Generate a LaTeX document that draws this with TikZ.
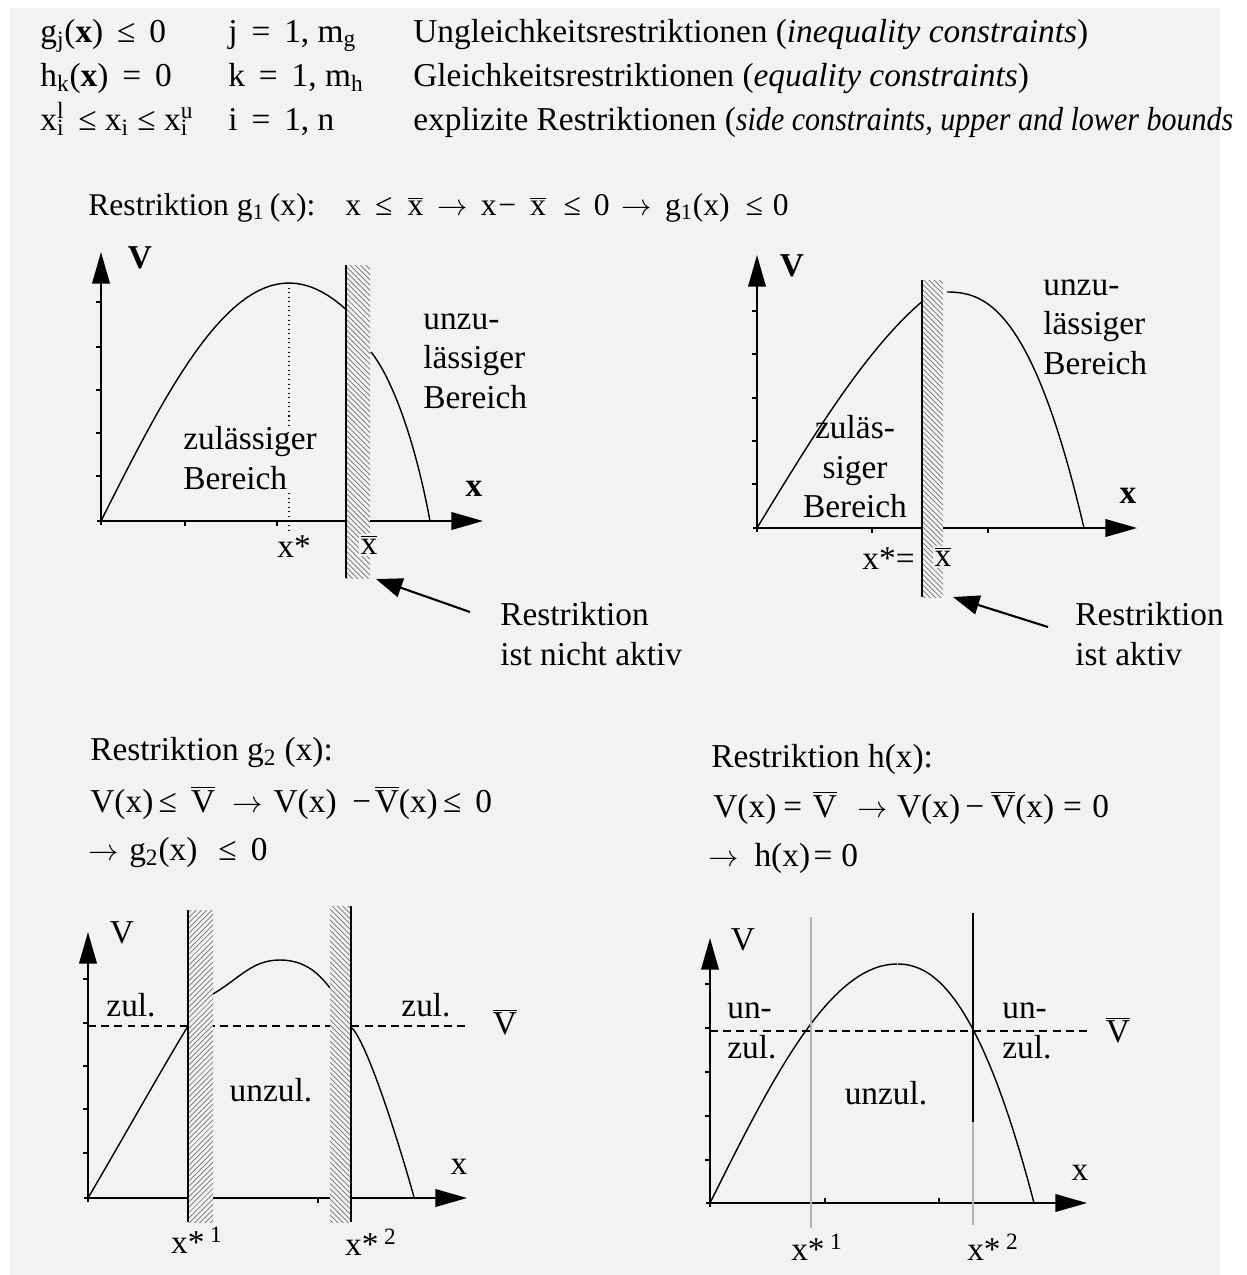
\documentclass[tikz,border=0pt]{standalone}
\usepackage{fontspec}
\setmainfont{Liberation Serif}
\usetikzlibrary{arrows.meta,patterns}

\definecolor{bgrey}{RGB}{242,242,242}
\newcommand{\xbar}{$\overline{\mbox{x}}$}
\newcommand{\Vbar}{$\overline{\mbox{V}}$}
\newcommand{\toarr}{$\rightarrow$}
\newcommand{\gap}[1]{\hspace{#1pt}}
\newcommand{\subsup}[3]{#1\rlap{\textsuperscript{#3}}\textsubscript{#2}}

\tikzset{
  txt/.style={font=\fontsize{19}{22.5}\selectfont, inner sep=0pt, align=left},
  head/.style={txt, anchor=base west, font=\fontsize{19}{23}\selectfont},
  title/.style={txt, anchor=base west, font=\fontsize{19}{23}\selectfont},
  axis/.style={line width=1.1pt, -{Triangle[length=18pt,width=10pt]}},
  curve/.style={line width=0.8pt},
  tick/.style={line width=0.6pt},
  wall/.style={line width=1.1pt},
  hatchNW/.style={preaction={fill=bgrey}, pattern=north west lines, pattern color=black!55},
  hatchNE/.style={preaction={fill=bgrey}, pattern=north east lines, pattern color=black!55},
  pointer/.style={line width=1.2pt, -{Triangle[length=15pt,width=11pt]}},
  vbar/.style={line width=0.8pt, dash pattern=on 4.5pt off 3pt},
}

\begin{document}
\begin{tikzpicture}[x=0.02cm, y=-0.02cm]
  \useasboundingbox (0,0) rectangle (1247,1275);
  \fill[bgrey] (10,8) rectangle (1220,1275);

  % restrictions, general form
  \node[head] (ineq) at (40,42) {g\textsubscript{j}(\textbf{x}) \,≤\, 0};
  \node[head] (ineqidx) at (228,42) {j \,=\, 1, m\textsubscript{g}};
  \node[head] (ineqtxt) at (413,42) {Ungleichkeitsrestriktionen (\textit{inequality constraints})};
  \node[head] (eq) at (40,86) {h\textsubscript{k}(\textbf{x}) \,=\, 0};
  \node[head] (eqidx) at (228,86) {k \,=\, 1, m\textsubscript{h}};
  \node[head] (eqtxt) at (413,86) {Gleichkeitsrestriktionen (\textit{equality constraints})};
  \node[head] (side) at (40,130) {\subsup{x}{i}{l}\, ≤ x\textsubscript{i} ≤ \subsup{x}{i}{u}};
  \node[head] (sideidx) at (228,130) {i \,=\, 1, n};
  \node[head] (sidetxt) at (413,130) {explizite Restriktionen ({\itshape\addfontfeature{FakeStretch=0.9}side constraints, upper and lower bounds}};

  % g1, not active
  \node[title, font=\fontsize{18}{22}\selectfont] (g1head) at (88,215)
    {Restriktion g\textsubscript{1}\,(x):\gap{17}x\gap{8}≤\gap{8.5}\xbar\gap{8}\toarr\gap{7.4}x\gap{1}−\gap{8}\xbar\gap{10}≤\gap{7.4}0\gap{6.8}\toarr\gap{7.4}g\textsubscript{1}(x)\gap{9}≤\gap{5.7}0};
  \draw[axis] (97,521) -- (483,521);
  \draw[axis] (101,525) -- (101,252);
  \foreach \t in {302,347,390,433,476} \draw[tick] (101,\t) -- (96,\t);
  \foreach \t in {185,277} \draw[tick] (\t,521) -- (\t,526);
  \draw[curve] plot[domain=101:347, samples=40] (\x, {521-238*sin(90*((\x-101)/188))});
  \draw[curve] (371,352) .. controls (392,378) and (415,440) .. (430,521);
  \draw[dotted, line width=0.6pt] (289,283) -- (289,530);
  \path[hatchNW] (346,265) rectangle (370,578);
  \draw[wall] (346,265) -- (346,578);
  \node[txt] (p1V) at (140,258) {\bfseries V};
  \node[txt] (p1x) at (474,489) {\bfseries x};
  \node[txt, anchor=west] (p1bad) at (423,361) {unzu-\\lässiger\\Bereich};
  \node[txt, anchor=west, fill=bgrey] (p1ok) at (183,458) {zulässiger\\Bereich};
  \node[txt] (p1xs) at (294,547) {x*};
  \node[txt, fill=bgrey, inner sep=1pt] (p1xb) at (369,545) {\xbar};
  \node[txt, anchor=west] (p1note) at (500,634) {Restriktion\\ist nicht aktiv};
  \coordinate (p1from) at (470,612);
  \coordinate (p1to) at (376,579);
  \draw[pointer] (p1from) -- (p1to);

  % g1, active
  \draw[axis] (753,528) -- (1137,528);
  \draw[axis] (757,532) -- (757,255);
  \foreach \t in {311,354,398,441,484} \draw[tick] (757,\t) -- (752,\t);
  \foreach \t in {872,988} \draw[tick] (\t,528) -- (\t,533);
  \draw[curve] plot[domain=757:922, samples=40] (\x, {528-265*sin(90*((\x-757)/253))});
  \draw[curve] plot[domain=947:1084, samples=40] (\x, {292+236*((\x-946)/138)^2.5});
  \path[hatchNW] (922,280) rectangle (943,597);
  \draw[wall] (922,280) -- (922,597);
  \node[txt] (p2V) at (792,266) {\bfseries V};
  \node[txt] (p2x) at (1128,496) {\bfseries x};
  \node[txt, anchor=west] (p2bad) at (1043,327) {unzu-\\lässiger\\Bereich};
  \node[txt, align=center] (p2ok) at (855,467) {zuläs-\\siger\\Bereich};
  \node[txt, anchor=east] (p2xs) at (915,559) {x*=};
  \node[txt, fill=bgrey, inner sep=1pt] (p2xb) at (943,557) {\xbar};
  \node[txt, anchor=west] (p2note) at (1075,634) {Restriktion\\ist aktiv};
  \coordinate (p2from) at (1048,627);
  \coordinate (p2to) at (953,597);
  \draw[pointer] (p2from) -- (p2to);

  % g2
  \node[title] (g2head) at (90,760) {Restriktion g\textsubscript{2} (x):};
  \node[title] (g2rel) at (90,812) {V(x)\gap{3}≤\gap{8}\Vbar\gap{10}\toarr\gap{6}V(x)\gap{9}−\gap{2}\Vbar(x)\gap{3}≤\gap{8}0};
  \node[title] (g2res) at (88,860) {\toarr\gap{6}g\textsubscript{2}(x)\gap{12}≤\gap{8}0};
  \draw[axis] (84,1198) -- (467,1198);
  \draw[axis] (88,1202) -- (88,932);
  \foreach \t in {979,1023,1066,1109,1153} \draw[tick] (88,\t) -- (83,\t);
  \draw[tick] (318,1198) -- (318,1203);
  \draw[vbar] (88,1026) -- (469,1026);
  \draw[curve] (88,1198) .. controls (125,1135) and (160,1072) .. (188,1026);
  \draw[curve] (213,994) .. controls (240,978) and (252,960) .. (280,960)
    .. controls (306,960) and (320,975) .. (330,988);
  \draw[curve] (352,1028) .. controls (368,1045) and (398,1140) .. (414,1197);
  \path[hatchNE] (188,910) rectangle (213,1222);
  \draw[wall] (188,910) -- (188,1222);
  \path[hatchNW] (330,906) rectangle (351,1222);
  \draw[wall] (351,906) -- (351,1222);
  \node[txt] (p3V) at (122,933) {V};
  \node[txt] (p3x) at (459,1167) {x};
  \node[txt] (p3okl) at (131,1005) {zul.};
  \node[txt] (p3okr) at (426,1005) {zul.};
  \node[txt] (p3bad) at (271,1090) {unzul.};
  \node[txt] (p3Vb) at (505,1022) {\Vbar};
  \node[txt] (p3xa) at (197,1240) {x*\,\textsuperscript{1}};
  \node[txt] (p3xb) at (371,1242) {x*\,\textsuperscript{2}};

  % h
  \node[title] (hhead) at (711,767) {Restriktion h(x):};
  \node[title] (hrel) at (713,817) {V(x)\gap{4}=\gap{6}\Vbar\gap{12}\toarr\gap{5}V(x)\gap{3}−\gap{4}\Vbar(x)\gap{5}=\gap{6}0};
  \node[title] (hres) at (708,866) {\toarr\gap{9}h(x)\gap{2}=\gap{5}0};
  \draw[axis] (706,1203) -- (1087,1203);
  \draw[axis] (710,1207) -- (710,938);
  \foreach \t in {984,1028,1072,1116,1160} \draw[tick] (710,\t) -- (705,\t);
  \foreach \t in {825,939} \draw[tick] (\t,1203) -- (\t,1198);
  \draw[vbar] (710,1031) -- (1092,1031);
  \draw[curve] plot[domain=710:897, samples=40] (\x, {1203-239*sin(90*((\x-710)/187))});
  \draw[curve] plot[domain=897.5:1034, samples=40] (\x, {964+239*((\x-897)/137)^2.2});
  \draw[line width=1.4pt, gray!60] (811,917) -- (811,1228);
  \draw[line width=1.2pt] (973,913) -- (973,1122);
  \draw[line width=1.2pt, gray!60] (973,1122) -- (973,1225);
  \node[txt] (p4V) at (743,940) {V};
  \node[txt] (p4x) at (1080,1173) {x};
  \node[txt, anchor=west] (p4badl) at (727,1031) {un-\\zul.};
  \node[txt, anchor=west] (p4badr) at (1002,1031) {un-\\zul.};
  \node[txt] (p4bad) at (886,1093) {unzul.};
  \node[txt] (p4Vb) at (1118,1030) {\Vbar};
  \node[txt] (p4xa) at (817,1247) {x*\,\textsuperscript{1}};
  \node[txt] (p4xb) at (993,1247) {x*\,\textsuperscript{2}};
\end{tikzpicture}
\end{document}
